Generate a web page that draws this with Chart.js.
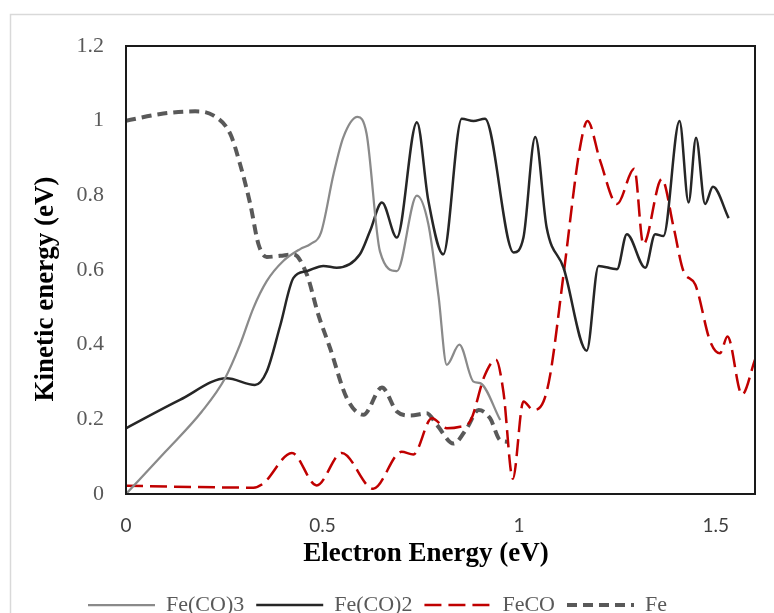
<!DOCTYPE html>
<html>
<head>
<meta charset="utf-8">
<title>Kinetic energy</title>
<script src="https://cdn.jsdelivr.net/npm/chart.js"></script>
<style>
    body { margin: 0; background: #fff; }
    #wrap { width: 774px; height: 613px; }
</style>
</head>
<body>
<div id="wrap"><canvas id="energy-chart" width="774" height="613"></canvas></div>
<script>
// values (x = electron energy, y = kinetic energy, both eV)
var co3X = [0, 0.100, 0.193, 0.252, 0.290, 0.324, 0.358, 0.400, 0.443, 0.470, 0.496, 0.528, 0.553, 0.589, 0.612, 0.646, 0.689, 0.740, 0.769, 0.795, 0.816, 0.848, 0.884, 0.901, 0.952];
var co3Y = [0, 0.113, 0.221, 0.310, 0.400, 0.498, 0.570, 0.624, 0.656, 0.670, 0.700, 0.857, 0.956, 1.010, 0.965, 0.650, 0.597, 0.799, 0.723, 0.530, 0.346, 0.400, 0.301, 0.297, 0.198];

var co2X = [0, 0.137, 0.256, 0.328, 0.358, 0.392, 0.426, 0.460, 0.502, 0.536, 0.595, 0.621, 0.651, 0.689, 0.740, 0.769, 0.807, 0.854, 0.884, 0.913, 0.986, 1.011, 1.041, 1.070, 1.113, 1.172, 1.202, 1.249, 1.274, 1.321, 1.346, 1.367, 1.408, 1.431, 1.450, 1.473, 1.493, 1.533];
var co2Y = [0.176, 0.252, 0.310, 0.292, 0.328, 0.450, 0.579, 0.597, 0.611, 0.606, 0.642, 0.705, 0.781, 0.687, 0.996, 0.786, 0.642, 1.005, 0.999, 1.005, 0.647, 0.687, 0.956, 0.714, 0.606, 0.384, 0.611, 0.602, 0.696, 0.606, 0.696, 0.691, 0.999, 0.781, 0.954, 0.777, 0.823, 0.739];

var fecoX = [0, 0.324, 0.349, 0.422, 0.485, 0.549, 0.629, 0.701, 0.731, 0.778, 0.816, 0.850, 0.875, 0.913, 0.941, 0.960, 0.984, 1.011, 1.036, 1.062, 1.079, 1.113, 1.155, 1.174, 1.206, 1.249, 1.293, 1.316, 1.363, 1.393, 1.418, 1.448, 1.486, 1.511, 1.530, 1.567, 1.600];
var fecoY = [0.022, 0.017, 0.028, 0.110, 0.023, 0.110, 0.014, 0.113, 0.106, 0.203, 0.176, 0.180, 0.194, 0.319, 0.360, 0.274, 0.041, 0.248, 0.225, 0.248, 0.319, 0.588, 0.929, 0.999, 0.893, 0.777, 0.871, 0.669, 0.844, 0.714, 0.597, 0.561, 0.409, 0.377, 0.422, 0.266, 0.360];

var feX = [0, 0.095, 0.176, 0.222, 0.265, 0.290, 0.316, 0.337, 0.358, 0.392, 0.426, 0.460, 0.489, 0.519, 0.562, 0.604, 0.651, 0.689, 0.723, 0.765, 0.791, 0.833, 0.867, 0.897, 0.926, 0.952, 0.973];
var feY = [1.000, 1.019, 1.025, 1.014, 0.965, 0.884, 0.777, 0.669, 0.635, 0.638, 0.642, 0.588, 0.481, 0.391, 0.256, 0.212, 0.285, 0.221, 0.210, 0.216, 0.185, 0.135, 0.176, 0.225, 0.203, 0.144, 0.140];

var seriesNames = ['Fe(CO)3', 'Fe(CO)2', 'FeCO', 'Fe'];
var xTitle = 'Electron Energy (eV)';
var yTitle = 'Kinetic energy (eV)';

function toPoints(xs, ys) {
    return xs.map(function (x, i) {
        return { x: x, y: ys[i] };
    });
}

// white page, excel chart-area frame, plot box and the two axis titles
var frame = {
    id: 'frame',
    beforeDraw: function (chart) {
        var ctx = chart.ctx;
        ctx.save();
        ctx.fillStyle = '#fff';
        ctx.fillRect(0, 0, chart.width, chart.height);
        ctx.strokeStyle = '#d9d9d9';
        ctx.lineWidth = 1.5;
        ctx.strokeRect(10.5, 14.5, chart.width + 20, chart.height + 20);
        ctx.restore();
    },
    afterDatasetsDraw: function (chart) {
        var a = chart.chartArea;
        var ctx = chart.ctx;
        ctx.save();
        ctx.strokeStyle = '#1a1a1a';
        ctx.lineWidth = 2;
        ctx.strokeRect(a.left, a.top, a.right - a.left, a.bottom - a.top);

        ctx.fillStyle = '#000';
        ctx.font = 'bold 27px "Liberation Serif"';
        ctx.textAlign = 'center';
        ctx.textBaseline = 'middle';
        ctx.fillText(xTitle, a.left + 300, a.bottom + 60);
        ctx.translate(46, a.top + 243);
        ctx.rotate(-Math.PI / 2);
        ctx.fillText(yTitle, 0, 0);
        ctx.restore();
    }
};

var ctx = document.getElementById('energy-chart').getContext('2d');
var lineBase = { pointRadius: 0, pointHoverRadius: 0, fill: false, cubicInterpolationMode: 'monotone' };

var energyChart = new Chart(ctx, {
    type: 'line',
    data: {
        datasets: [
            Object.assign({
                label: seriesNames[0],
                data: toPoints(co3X, co3Y),
                borderColor: '#8a8a8a',
                backgroundColor: '#8a8a8a',
                borderWidth: 2.25
            }, lineBase),
            Object.assign({
                label: seriesNames[1],
                data: toPoints(co2X, co2Y),
                borderColor: '#262626',
                backgroundColor: '#262626',
                borderWidth: 2.5
            }, lineBase),
            Object.assign({
                label: seriesNames[2],
                data: toPoints(fecoX, fecoY),
                borderColor: '#c00000',
                backgroundColor: '#c00000',
                borderWidth: 2.5,
                borderDash: [17, 7]
            }, lineBase),
            Object.assign({
                label: seriesNames[3],
                data: toPoints(feX, feY),
                borderColor: '#595959',
                backgroundColor: '#595959',
                borderWidth: 4,
                borderDash: [10, 6]
            }, lineBase)
        ]
    },
    options: {
        responsive: false,
        animation: false,
        devicePixelRatio: 1,
        layout: { padding: { left: 0, top: 46, right: 19, bottom: -13 } },
        plugins: {
            tooltip: { enabled: false },
            legend: {
                position: 'bottom',
                labels: {
                    usePointStyle: true,
                    pointStyle: 'line',
                    pointStyleWidth: 67,
                    padding: 12,
                    color: '#595959',
                    font: { family: '"Liberation Serif"', size: 22 },
                    generateLabels: function (chart) {
                        var items = Chart.defaults.plugins.legend.labels.generateLabels(chart);
                        items.forEach(function (item) {
                            var ds = chart.data.datasets[item.datasetIndex];
                            item.lineDash = ds.borderDash || [];
                            item.lineWidth = ds.borderWidth;
                            item.strokeStyle = ds.borderColor;
                        });
                        return items;
                    }
                }
            }
        },
        scales: {
            x: {
                type: 'linear',
                min: 0,
                max: 1.6,
                grid: { display: false, drawTicks: false },
                border: { display: false },
                ticks: {
                    stepSize: 0.5,
                    includeBounds: false,
                    maxRotation: 0,
                    padding: 20,
                    color: '#404040',
                    font: { family: 'Lato', size: 19 },
                    callback: function (v) { return Number(v.toFixed(1)).toString(); }
                },
                afterFit: function (scale) { scale.height = 88; }
            },
            y: {
                min: 0,
                max: 1.2,
                grid: { display: false, drawTicks: false },
                border: { display: false },
                ticks: {
                    stepSize: 0.2,
                    padding: 22,
                    color: '#595959',
                    font: { family: '"Liberation Serif"', size: 22 },
                    callback: function (v) { return Number(v.toFixed(1)).toString(); }
                },
                afterFit: function (scale) { scale.width = 126; }
            }
        }
    },
    plugins: [frame]
});
</script>
</body>
</html>
